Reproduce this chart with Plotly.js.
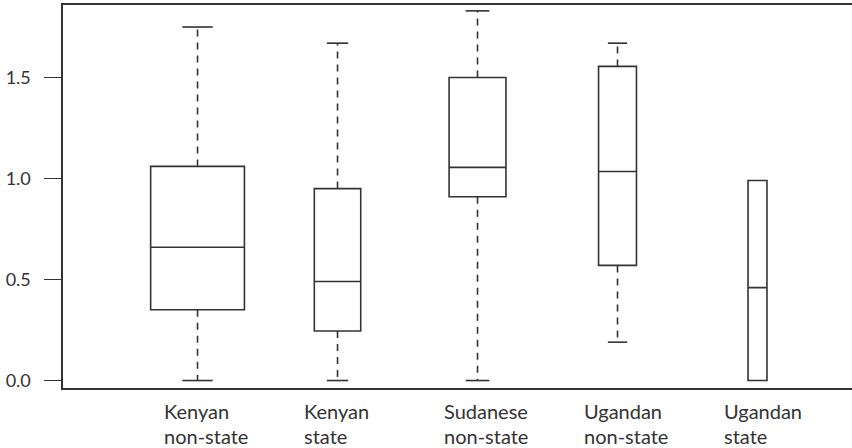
<!DOCTYPE html>
<html>
<head>
<meta charset="utf-8">
<script src="https://cdn.plot.ly/plotly-3.0.1.min.js"></script>
<style>html,body{margin:0;padding:0;background:#fff;}#chart{width:852px;height:448px;}</style>
</head>
<body>
<div id="chart"></div>
<script>
// ---- data ----
const categories = ['Kenyan\nnon-state', 'Kenyan\nstate', 'Sudanese\nnon-state', 'Ugandan\nnon-state', 'Ugandan\nstate'];
const minVals    = [0.00, 0.00, 0.00, 0.19, 0.00];
const q1Vals     = [0.35, 0.245, 0.91, 0.57, 0.00];
const medianVals = [0.66, 0.49, 1.055, 1.035, 0.46];
const q3Vals     = [1.06, 0.95, 1.50, 1.555, 0.99];
const maxVals    = [1.75, 1.67, 1.83, 1.67, 0.99];
const groupSizes = [49, 12, 18, 8, 2];   // relative group sizes (box widths ~ sqrt(n))
const yTickVals  = [0, 0.5, 1.0, 1.5];
const yTickText  = ['0.0', '0.5', '1.0', '1.5'];

// ---- styles ----
const INK = '#333333';
const FONT = 'Lato, "Open Sans", sans-serif';
const MAX_WIDTH = 0.67;
const maxN = Math.max(...groupSizes);

const traces = [];
categories.forEach((c, i) => {
  const w = MAX_WIDTH * Math.sqrt(groupSizes[i] / maxN);
  const capW = 0.155 * Math.sqrt(w / MAX_WIDTH) * 1.4;
  traces.push({
    type: 'box', x: [i], q1: [q1Vals[i]], median: [medianVals[i]], q3: [q3Vals[i]],
    lowerfence: [q1Vals[i]], upperfence: [q3Vals[i]],
    width: w, whiskerwidth: 0, boxpoints: false,
    fillcolor: '#ffffff', line: {color: INK, width: 1.6},
    showlegend: false, hoverinfo: 'skip'
  });
  const whisk = [[q3Vals[i], maxVals[i]], [q1Vals[i], minVals[i]]];
  whisk.forEach(([from, to]) => {
    if (from === to) return;
    traces.push({type: 'scatter', mode: 'lines', x: [i, i], y: [from, to],
      line: {color: INK, width: 1.6, dash: '7px,6px'}, showlegend: false, hoverinfo: 'skip'});
    traces.push({type: 'scatter', mode: 'lines', x: [i - capW / 2, i + capW / 2], y: [to, to],
      line: {color: INK, width: 1.6}, showlegend: false, hoverinfo: 'skip'});
  });
});

const annotations = [];
categories.forEach((c, i) => {
  c.split('\n').forEach((line, k) => {
    annotations.push({
      x: i, xref: 'x', y: 0, yref: 'paper', yanchor: 'top', xanchor: 'left',
      xshift: -36, yshift: -9 - 25 * k, text: line, showarrow: false, align: 'left',
      font: {family: FONT, size: 20, color: INK}
    });
  });
});

const layout = {
  width: 852, height: 448,
  margin: {l: 63, r: 0, t: 5, b: 60, pad: 0},
  paper_bgcolor: '#ffffff', plot_bgcolor: '#ffffff',
  showlegend: false,
  xaxis: {
    range: [-0.961, 4.675], showgrid: false, zeroline: false,
    showticklabels: false, ticks: '', showline: true, mirror: true,
    linecolor: INK, linewidth: 1.6, fixedrange: true
  },
  yaxis: {
    range: [-0.037, 1.859], showgrid: false, zeroline: false,
    tickmode: 'array', tickvals: yTickVals, ticktext: yTickText,
    ticks: 'outside', ticklen: 17, tickwidth: 1.6, tickcolor: INK,
    ticklabelstandoff: 10,
    showline: true, linecolor: INK, linewidth: 1.6,
    tickfont: {family: FONT, size: 18, color: INK}, fixedrange: true
  },
  annotations: annotations
};

Plotly.newPlot('chart', traces, layout, {displayModeBar: false, staticPlot: true});
</script>
</body>
</html>
